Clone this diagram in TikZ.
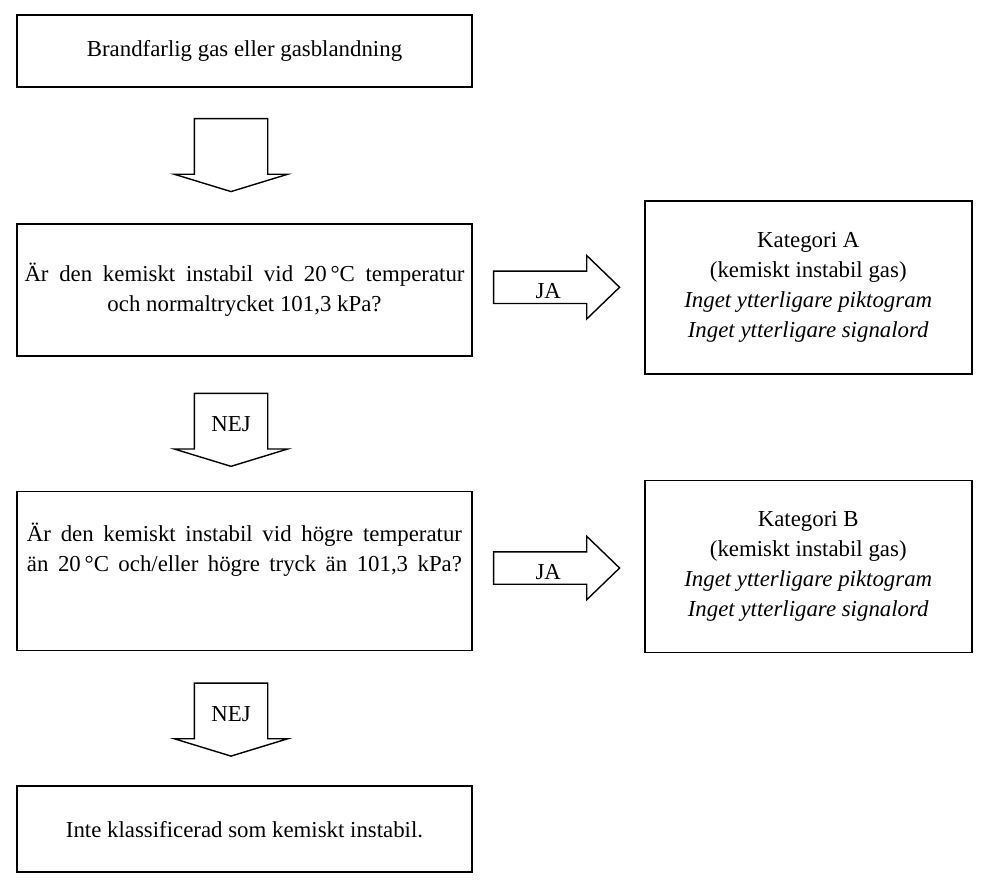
\documentclass[tikz,border=0pt]{standalone}
\usepackage{fontspec}
\setmainfont{Liberation Serif}
\usetikzlibrary{shapes.arrows, positioning}

\begin{document}
\begin{tikzpicture}[
  box/.style={rectangle, draw, line width=1pt, minimum width=#1, align=center, font=\fontsize{13}{17}\selectfont},
  box/.default=9.1cm,
  downarrow/.style={single arrow, draw, line width=0.8pt, shape border rotate=270, minimum height=1.46cm, minimum width=2.24cm, text width=1.44cm, align=center, single arrow head extend=0.4cm, single arrow tip angle=146, inner sep=0pt, font=\fontsize{13}{17}\selectfont},
  jaarrow/.style={single arrow, draw, line width=0.8pt, minimum height=2.52cm, minimum width=1.24cm, text height=0.53cm, text depth=0.09cm, single arrow head extend=0.31cm, single arrow tip angle=88, inner sep=0pt, font=\fontsize{13}{17}\selectfont}]
  \useasboundingbox (0,0) rectangle (19.68,-17.84);
  \node[box, minimum height=1.44cm] (gas) at (4.89,-1.02) {Brandfarlig gas eller gasblandning};
  \node[box, minimum height=2.64cm, below=2.7cm of gas] (q1) {\makebox[8.8cm][s]{Är den kemiskt instabil vid 20\,°C temperatur}\\och normaltrycket 101,3 kPa?};
  \node[box, minimum height=3.18cm, below=2.68cm of q1] (q2) {\makebox[8.7cm][s]{Är den kemiskt instabil vid högre temperatur}\\\makebox[8.7cm][s]{än 20\,°C och/eller högre tryck än 101,3 kPa?}\\[5pt]\strut};
  \node[box, minimum height=1.72cm, below=2.68cm of q2] (none) {Inte klassificerad som kemiskt instabil.};
  \node[box=6.54cm, minimum height=3.46cm, right=3.42cm of q1, yshift=0.05cm] (katA) {Kategori A\\(kemiskt instabil gas)\\\textit{Inget ytterligare piktogram}\\\textit{Inget ytterligare signalord}};
  \node[box=6.54cm, minimum height=3.44cm, right=3.42cm of q2, yshift=0.09cm] (katB) {Kategori B\\(kemiskt instabil gas)\\\textit{Inget ytterligare piktogram}\\\textit{Inget ytterligare signalord}};
  % block arrows
  \node[downarrow, below=0.6cm of gas, anchor=tail, xshift=-0.27cm] (d1) {};
  \node[downarrow, below=0.72cm of q1, anchor=tail, xshift=-0.27cm] (d2) {NEJ};
  \node[downarrow, below=0.62cm of q2, anchor=tail, xshift=-0.27cm] (d3) {NEJ};
  \node[jaarrow, right=0.4cm of q1, anchor=tail, yshift=0.05cm] (r1) {JA};
  \node[jaarrow, right=0.4cm of q2, anchor=tail, yshift=0.06cm] (r2) {JA};
\end{tikzpicture}
\end{document}
